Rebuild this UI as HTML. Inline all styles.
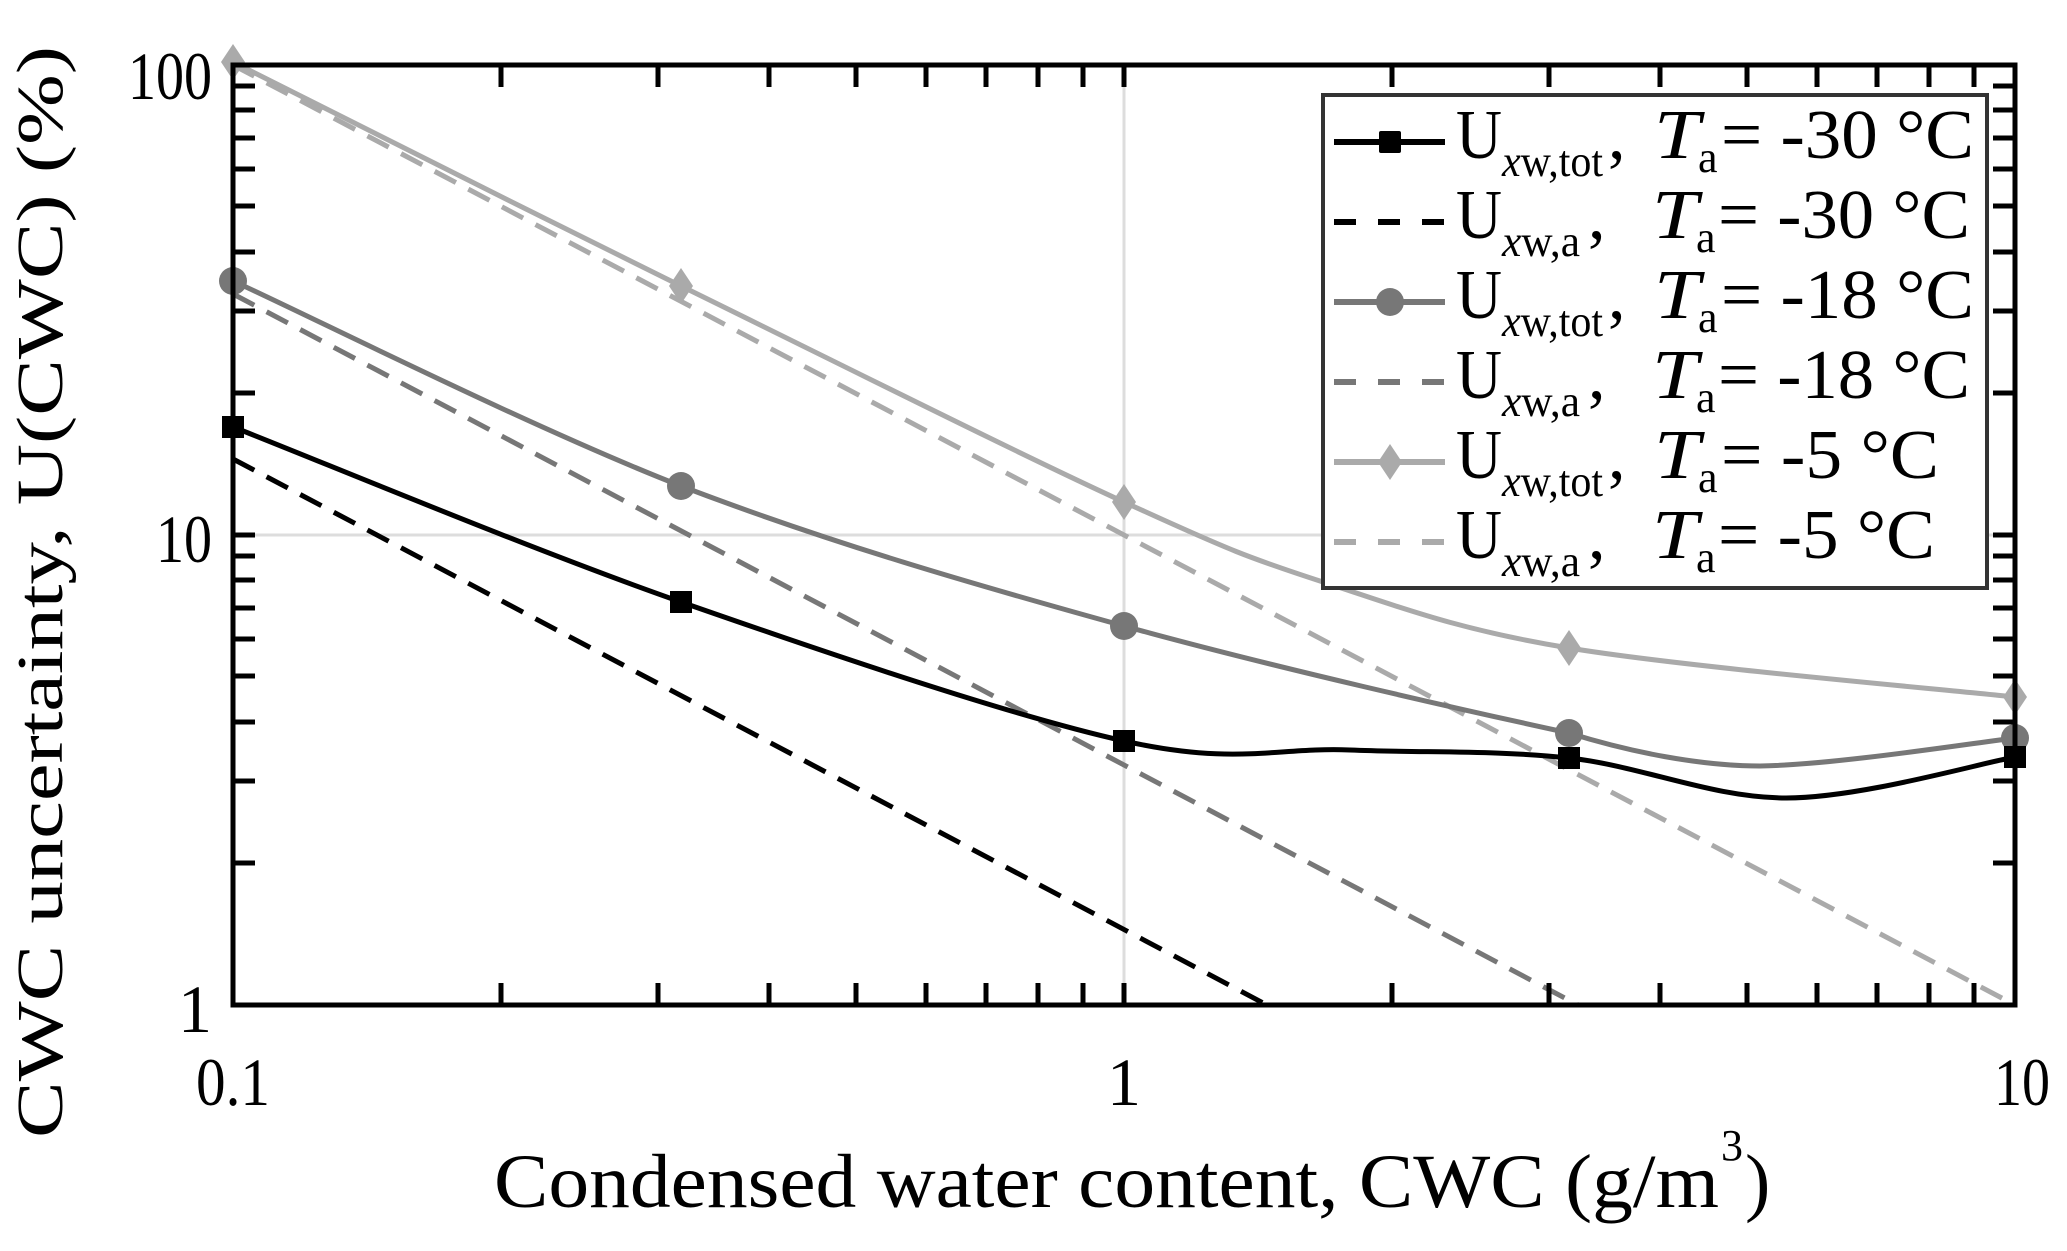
<!DOCTYPE html>
<html><head><meta charset="utf-8"><style>
html,body{margin:0;padding:0;background:#fff;}
svg{display:block;}
text{font-family:"Liberation Serif",serif;fill:#000;}
</style></head><body>
<svg width="2067" height="1251" viewBox="0 0 2067 1251" xmlns="http://www.w3.org/2000/svg">
<rect width="2067" height="1251" fill="#fff"/>
<line x1="1124" y1="65" x2="1124" y2="1005" stroke="#ddd" stroke-width="3"/>
<line x1="233" y1="535" x2="2015" y2="535" stroke="#ddd" stroke-width="3"/>
<line x1="233" y1="459" x2="1267" y2="1005" stroke="#000" stroke-width="5" stroke-dasharray="24,14"/>
<line x1="233" y1="294" x2="1578" y2="1005" stroke="#777" stroke-width="5" stroke-dasharray="24,14"/>
<line x1="233" y1="65" x2="2015" y2="1005" stroke="#aaa" stroke-width="5" stroke-dasharray="24,14"/>
<path d="M233,62 C308,99 532,213 681,286 C830,359 1017,453 1124,502 C1231,551 1249,558 1323,582 C1397,606 1454,629 1569,648 C1684,667 1941,689 2015,697" fill="none" stroke="#aaa" stroke-width="5"/>
<path d="M233,281 C308,315 532,428 681,486 C830,543 976,585 1124,626 C1272,667 1463,710 1569,733 C1630,752 1700,766 1760,766 C1834,765 1973,743 2015,738" fill="none" stroke="#777" stroke-width="5"/>
<path d="M233,427 C308,456 532,550 681,602 C830,654 1012,716 1124,741 C1236,766 1276,747 1350,750 C1424,753 1496,750 1569,758 C1642,766 1712,798 1786,798 C1860,798 1977,764 2015,757" fill="none" stroke="#000" stroke-width="5"/>
<g fill="#aaa">
<polygon points="233,44 245,62 233,80 221,62"/>
<polygon points="681,268 693,286 681,304 669,286"/>
<polygon points="1124,484 1136,502 1124,520 1112,502"/>
<polygon points="1569,630 1581,648 1569,666 1557,648"/>
<polygon points="2015,679 2027,697 2015,715 2003,697"/>
</g>
<g fill="#777">
<circle cx="233" cy="281" r="14"/><circle cx="681" cy="486" r="14"/><circle cx="1124" cy="626" r="14"/><circle cx="1569" cy="733" r="14"/><circle cx="2015" cy="738" r="14"/>
</g>
<g fill="#000">
<rect x="222" y="416" width="22" height="22"/><rect x="670" y="591" width="22" height="22"/><rect x="1113" y="730" width="22" height="22"/><rect x="1558" y="747" width="22" height="22"/><rect x="2004" y="746" width="22" height="22"/>
</g>
<rect x="233" y="65" width="1782" height="940" fill="none" stroke="#000" stroke-width="5"/>
<path stroke="#000" stroke-width="5" fill="none" d="
M501,1005v-22M658,1005v-22M769,1005v-22M856,1005v-22M926,1005v-22M986,1005v-22M1038,1005v-22M1083,1005v-22M1124,1005v-22
M1392,1005v-22M1549,1005v-22M1660,1005v-22M1747,1005v-22M1817,1005v-22M1877,1005v-22M1929,1005v-22M1974,1005v-22
M501,65v22M658,65v22M769,65v22M856,65v22M926,65v22M986,65v22M1038,65v22M1083,65v22M1124,65v22
M1392,65v22M1549,65v22M1660,65v22M1747,65v22M1817,65v22M1877,65v22M1929,65v22M1974,65v22
M233,863h22M233,781h22M233,722h22M233,676h22M233,639h22M233,608h22M233,580h22M233,556h22M233,535h22
M233,393h22M233,311h22M233,252h22M233,206h22M233,169h22M233,138h22M233,110h22M233,86h22
M2015,863h-22M2015,781h-22M2015,722h-22M2015,676h-22M2015,639h-22M2015,608h-22M2015,580h-22M2015,556h-22M2015,535h-22
M2015,393h-22M2015,311h-22M2015,252h-22M2015,206h-22M2015,169h-22M2015,138h-22M2015,110h-22M2015,86h-22"/>
<g font-size="68">
<text x="212" y="99" text-anchor="end" textLength="84" lengthAdjust="spacingAndGlyphs">100</text>
<text x="212" y="562" text-anchor="end" textLength="56" lengthAdjust="spacingAndGlyphs">10</text>
<text x="212" y="1032" text-anchor="end">1</text>
<text x="233" y="1105" text-anchor="middle" textLength="74" lengthAdjust="spacingAndGlyphs">0.1</text>
<text x="1124" y="1105" text-anchor="middle">1</text>
<text x="2022" y="1105" text-anchor="middle" textLength="56" lengthAdjust="spacingAndGlyphs">10</text>
</g>
<text x="494" y="1207" font-size="76" textLength="1225" lengthAdjust="spacingAndGlyphs">Condensed water content, CWC (g/m</text>
<text x="1721" y="1160" font-size="44">3</text>
<text x="1745" y="1207" font-size="76">)</text>
<text transform="translate(62,592) rotate(-90)" text-anchor="middle" font-size="66" textLength="1092" lengthAdjust="spacingAndGlyphs">CWC uncertainty, U(CWC) (%)</text>
<!-- legend -->
<rect x="1323" y="95" width="664" height="493" fill="#fff" stroke="#333" stroke-width="4"/>
<g stroke-width="6">
<line x1="1334" y1="142" x2="1445" y2="142" stroke="#000"/>
<line x1="1334" y1="222" x2="1445" y2="222" stroke="#000" stroke-dasharray="22,22"/>
<line x1="1334" y1="302" x2="1445" y2="302" stroke="#777"/>
<line x1="1334" y1="382" x2="1445" y2="382" stroke="#777" stroke-dasharray="22,22"/>
<line x1="1334" y1="462" x2="1445" y2="462" stroke="#aaa"/>
<line x1="1334" y1="542" x2="1445" y2="542" stroke="#aaa" stroke-dasharray="22,22"/>
</g>
<rect x="1379" y="131" width="22" height="22" rx="2" fill="#000"/>
<circle cx="1390" cy="302" r="14" fill="#777"/>
<polygon points="1390,444 1402,462 1390,480 1378,462" fill="#aaa"/>
<g id="rows">
<g>
<text x="1456" y="158" font-size="70" textLength="46" lengthAdjust="spacingAndGlyphs">U</text>
<text x="1502" y="176" font-size="44" textLength="101" lengthAdjust="spacingAndGlyphs"><tspan font-style="italic">x</tspan>w,tot</text>
<text x="1608" y="158" font-size="70">,</text>
<text x="1654" y="158" font-size="70" font-style="italic" textLength="46" lengthAdjust="spacingAndGlyphs">T</text>
<text x="1698" y="172" font-size="44">a</text>
<text x="1721" y="158" font-size="70" textLength="253" lengthAdjust="spacingAndGlyphs">= -30 °C</text>
</g>
<g transform="translate(0,80)">
<text x="1456" y="158" font-size="70" textLength="46" lengthAdjust="spacingAndGlyphs">U</text>
<text x="1502" y="176" font-size="44" textLength="78" lengthAdjust="spacingAndGlyphs"><tspan font-style="italic">x</tspan>w,a</text>
<text x="1588" y="158" font-size="70">,</text>
<text x="1652" y="158" font-size="70" font-style="italic" textLength="46" lengthAdjust="spacingAndGlyphs">T</text>
<text x="1696" y="172" font-size="44">a</text>
<text x="1718" y="158" font-size="70" textLength="252" lengthAdjust="spacingAndGlyphs">= -30 °C</text>
</g>
<g transform="translate(0,160)">
<text x="1456" y="158" font-size="70" textLength="46" lengthAdjust="spacingAndGlyphs">U</text>
<text x="1502" y="176" font-size="44" textLength="101" lengthAdjust="spacingAndGlyphs"><tspan font-style="italic">x</tspan>w,tot</text>
<text x="1608" y="158" font-size="70">,</text>
<text x="1654" y="158" font-size="70" font-style="italic" textLength="46" lengthAdjust="spacingAndGlyphs">T</text>
<text x="1698" y="172" font-size="44">a</text>
<text x="1721" y="158" font-size="70" textLength="253" lengthAdjust="spacingAndGlyphs">= -18 °C</text>
</g>
<g transform="translate(0,240)">
<text x="1456" y="158" font-size="70" textLength="46" lengthAdjust="spacingAndGlyphs">U</text>
<text x="1502" y="176" font-size="44" textLength="78" lengthAdjust="spacingAndGlyphs"><tspan font-style="italic">x</tspan>w,a</text>
<text x="1588" y="158" font-size="70">,</text>
<text x="1652" y="158" font-size="70" font-style="italic" textLength="46" lengthAdjust="spacingAndGlyphs">T</text>
<text x="1696" y="172" font-size="44">a</text>
<text x="1718" y="158" font-size="70" textLength="252" lengthAdjust="spacingAndGlyphs">= -18 °C</text>
</g>
<g transform="translate(0,320)">
<text x="1456" y="158" font-size="70" textLength="46" lengthAdjust="spacingAndGlyphs">U</text>
<text x="1502" y="176" font-size="44" textLength="101" lengthAdjust="spacingAndGlyphs"><tspan font-style="italic">x</tspan>w,tot</text>
<text x="1608" y="158" font-size="70">,</text>
<text x="1654" y="158" font-size="70" font-style="italic" textLength="46" lengthAdjust="spacingAndGlyphs">T</text>
<text x="1698" y="172" font-size="44">a</text>
<text x="1721" y="158" font-size="70" textLength="218" lengthAdjust="spacingAndGlyphs">= -5 °C</text>
</g>
<g transform="translate(0,400)">
<text x="1456" y="158" font-size="70" textLength="46" lengthAdjust="spacingAndGlyphs">U</text>
<text x="1502" y="176" font-size="44" textLength="78" lengthAdjust="spacingAndGlyphs"><tspan font-style="italic">x</tspan>w,a</text>
<text x="1588" y="158" font-size="70">,</text>
<text x="1652" y="158" font-size="70" font-style="italic" textLength="46" lengthAdjust="spacingAndGlyphs">T</text>
<text x="1696" y="172" font-size="44">a</text>
<text x="1718" y="158" font-size="70" textLength="217" lengthAdjust="spacingAndGlyphs">= -5 °C</text>
</g>
</g>
</svg>
</body></html>
